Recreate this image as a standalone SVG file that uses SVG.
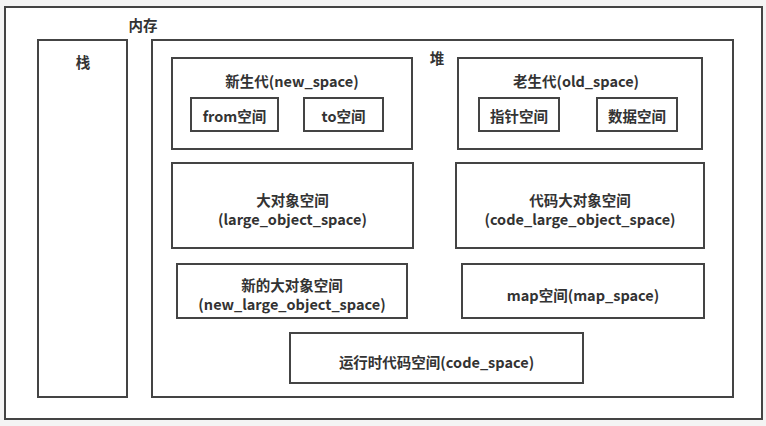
<svg xmlns="http://www.w3.org/2000/svg" width="766" height="426" viewBox="0 0 766 426">
<style>
rect.b{fill:#fff;stroke:#444;stroke-width:2}
text{font-family:"Noto Sans CJK SC","Noto Sans",sans-serif;font-size:14.5px;font-weight:bold;fill:#333;text-anchor:middle;dominant-baseline:central}
</style>
<rect width="766" height="426" fill="#f4f4f4"/>
<g id="memory"><rect class="b" x="5" y="7" width="757" height="412"/><text x="143" y="24">内存</text></g>
<g id="stack"><rect class="b" x="38" y="40" width="89" height="357"/><text x="83" y="61">栈</text></g>
<g id="heap"><rect class="b" x="152" y="40" width="581" height="357"/><text x="437" y="57">堆</text></g>
<g id="new_space"><rect class="b" x="172" y="58" width="240" height="91"/><text x="292" y="80">新生代(new_space)</text></g>
<g id="from"><rect class="b" x="191" y="98" width="87" height="33"/><text x="234.5" y="115">from空间</text></g>
<g id="to"><rect class="b" x="304" y="98" width="79" height="33"/><text x="343.5" y="115">to空间</text></g>
<g id="old_space"><rect class="b" x="458" y="58" width="244" height="91"/><text x="576" y="80">老生代(old_space)</text></g>
<g id="pointer"><rect class="b" x="479" y="98" width="80" height="33"/><text x="519" y="115">指针空间</text></g>
<g id="data"><rect class="b" x="597" y="98" width="80" height="33"/><text x="637" y="115">数据空间</text></g>
<g id="lo"><rect class="b" x="172" y="163" width="241" height="85"/><text x="292.5" y="199">大对象空间</text><text x="292.5" y="218">(large_object_space)</text></g>
<g id="clo"><rect class="b" x="456" y="163" width="248" height="85"/><text x="580" y="199">代码大对象空间</text><text x="580" y="218">(code_large_object_space)</text></g>
<g id="nlo"><rect class="b" x="177" y="264" width="230" height="54"/><text x="292" y="284">新的大对象空间</text><text x="292" y="303">(new_large_object_space)</text></g>
<g id="map"><rect class="b" x="462" y="264" width="242" height="54"/><text x="583" y="294">map空间(map_space)</text></g>
<g id="code"><rect class="b" x="290" y="333" width="293" height="50"/><text x="436.5" y="361">运行时代码空间(code_space)</text></g>
<g id="connectors"/>
</svg>
